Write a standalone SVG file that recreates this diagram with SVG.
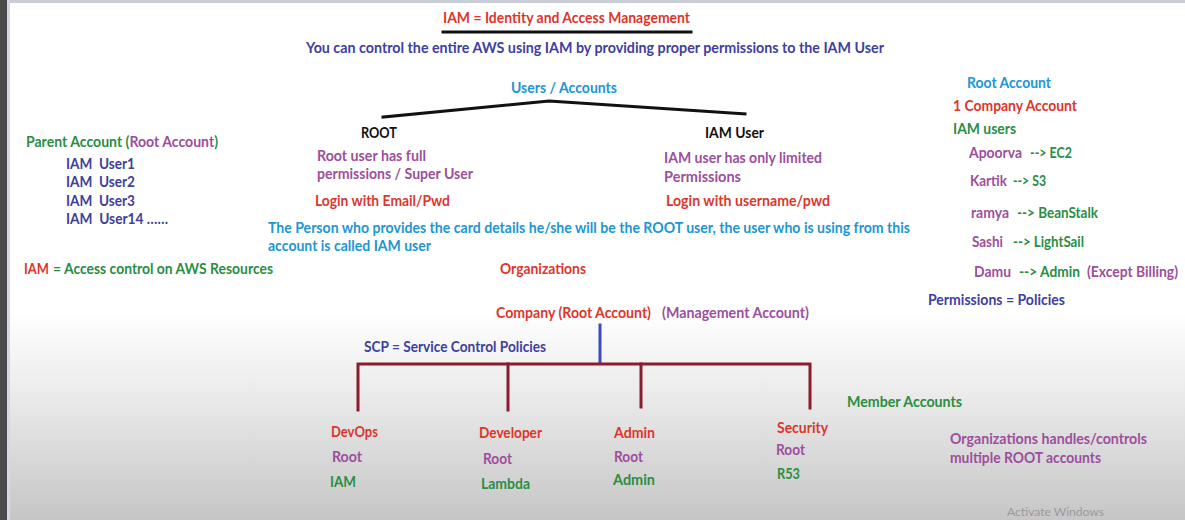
<svg xmlns="http://www.w3.org/2000/svg" width="1185" height="520" viewBox="0 0 1185 520">
<style>
text{font-family:"Lato","Open Sans","Liberation Sans",sans-serif;font-weight:bold;font-size:14.5px;}
.r{fill:#dc362c}.b{fill:#40409e}.lb{fill:#2196d3}.p{fill:#9c4f9c}.g{fill:#2a8e45}.k{fill:#111}
.wm{font-weight:normal;font-size:12px;fill:#9a9a9a}
</style>
<defs>
<linearGradient id="bg" x1="0" y1="0" x2="0" y2="1">
<stop offset="0" stop-color="#ffffff"/>
<stop offset="0.6" stop-color="#ffffff"/>
<stop offset="0.75" stop-color="#ececec"/>
<stop offset="1" stop-color="#c6c6c6"/>
</linearGradient>
</defs>
<rect width="1185" height="520" fill="url(#bg)"/>
<rect x="0" y="0" width="1185" height="3" fill="#c9cdd8"/>
<rect x="7" y="0" width="3" height="520" fill="#d4d6e4"/>
<rect x="0" y="0" width="7" height="520" fill="#4a4a4a"/>

<g id="connectors" fill="none" stroke-linecap="square">
<line x1="443" y1="32" x2="691" y2="32" stroke="#111" stroke-width="3"/>
<polyline points="383,117 549,101 745,114" stroke="#111" stroke-width="3"/>
<line x1="600" y1="325" x2="600" y2="363" stroke="#3a4cc0" stroke-width="3"/>
<polyline points="358,410 358,364 810,364 810,408" stroke="#8b1c2c" stroke-width="3"/>
<line x1="508" y1="364" x2="508" y2="410" stroke="#8b1c2c" stroke-width="3"/>
<line x1="641" y1="364" x2="641" y2="407" stroke="#8b1c2c" stroke-width="3"/>
</g>

<g id="title"><text class="r" x="443" y="23" textLength="247" lengthAdjust="spacingAndGlyphs">IAM = Identity and Access Management</text></g>
<g id="subtitle"><text class="b" x="306" y="53" textLength="578" lengthAdjust="spacingAndGlyphs">You can control the entire AWS using IAM by providing proper permissions to the IAM User</text></g>
<g id="users-accounts"><text class="lb" x="511" y="93" textLength="106" lengthAdjust="spacingAndGlyphs">Users / Accounts</text></g>

<g id="root">
<text class="k" x="361" y="138" textLength="36" lengthAdjust="spacingAndGlyphs">ROOT</text>
<text class="p" x="317" y="161" textLength="109" lengthAdjust="spacingAndGlyphs">Root user has full</text>
<text class="p" x="317" y="179" textLength="156" lengthAdjust="spacingAndGlyphs">permissions / Super User</text>
<text class="r" x="315" y="206" textLength="135" lengthAdjust="spacingAndGlyphs">Login with Email/Pwd</text>
</g>
<g id="iam-user">
<text class="k" x="705" y="138" textLength="59" lengthAdjust="spacingAndGlyphs">IAM User</text>
<text class="p" x="664" y="163" textLength="158" lengthAdjust="spacingAndGlyphs">IAM user has only limited</text>
<text class="p" x="664" y="182" textLength="77" lengthAdjust="spacingAndGlyphs">Permissions</text>
<text class="r" x="666" y="206" textLength="164" lengthAdjust="spacingAndGlyphs">Login with username/pwd</text>
</g>
<g id="note-person">
<text class="lb" x="268" y="233" textLength="642" lengthAdjust="spacingAndGlyphs">The Person who provides the card details he/she will be the ROOT user, the user who is using from this</text>
<text class="lb" x="268" y="251" textLength="163" lengthAdjust="spacingAndGlyphs">account is called IAM user</text>
</g>

<g id="parent-account">
<text x="26" y="147" textLength="192" lengthAdjust="spacingAndGlyphs"><tspan class="g">Parent Account (</tspan><tspan class="p">Root Account</tspan><tspan class="g">)</tspan></text>
<text class="b" x="66" y="169" xml:space="preserve" textLength="69" lengthAdjust="spacingAndGlyphs">IAM  User1</text>
<text class="b" x="66" y="187" xml:space="preserve" textLength="69" lengthAdjust="spacingAndGlyphs">IAM  User2</text>
<text class="b" x="66" y="206" xml:space="preserve" textLength="69" lengthAdjust="spacingAndGlyphs">IAM  User3</text>
<text class="b" x="66" y="224" xml:space="preserve" textLength="102" lengthAdjust="spacingAndGlyphs">IAM  User14 ……</text>
</g>
<g id="iam-access">
<text class="r" x="24" y="274" textLength="25" lengthAdjust="spacingAndGlyphs">IAM</text>
<text class="g" x="53" y="274" textLength="220" lengthAdjust="spacingAndGlyphs">= Access control on AWS Resources</text>
</g>

<g id="right-panel">
<text class="lb" x="967" y="88" textLength="84" lengthAdjust="spacingAndGlyphs">Root Account</text>
<text class="r" x="953" y="111" textLength="124" lengthAdjust="spacingAndGlyphs">1 Company Account</text>
<text class="g" x="953" y="134" textLength="63" lengthAdjust="spacingAndGlyphs">IAM users</text>
<text class="p" x="969" y="158" textLength="53" lengthAdjust="spacingAndGlyphs">Apoorva</text>
<text class="g" x="1030" y="158" textLength="42" lengthAdjust="spacingAndGlyphs">--&gt; EC2</text>
<text class="p" x="970" y="186" textLength="37" lengthAdjust="spacingAndGlyphs">Kartik</text>
<text class="g" x="1013" y="186" textLength="33" lengthAdjust="spacingAndGlyphs">--&gt; S3</text>
<text class="p" x="971" y="218" textLength="38" lengthAdjust="spacingAndGlyphs">ramya</text>
<text class="g" x="1017" y="218" textLength="81" lengthAdjust="spacingAndGlyphs">--&gt; BeanStalk</text>
<text class="p" x="972" y="247" textLength="31" lengthAdjust="spacingAndGlyphs">Sashi</text>
<text class="g" x="1013" y="247" textLength="71" lengthAdjust="spacingAndGlyphs">--&gt; LightSail</text>
<text class="p" x="974" y="277" textLength="37" lengthAdjust="spacingAndGlyphs">Damu</text>
<text class="g" x="1019" y="277" textLength="61" lengthAdjust="spacingAndGlyphs">--&gt; Admin</text>
<text class="p" x="1087" y="277" textLength="91" lengthAdjust="spacingAndGlyphs">(Except Billing)</text>
<text class="b" x="928" y="305" textLength="137" lengthAdjust="spacingAndGlyphs">Permissions = Policies</text>
</g>

<g id="organizations"><text class="r" x="500" y="274" textLength="86" lengthAdjust="spacingAndGlyphs">Organizations</text></g>
<g id="company">
<text class="r" x="496" y="318" textLength="155" lengthAdjust="spacingAndGlyphs">Company (Root Account)</text>
<text class="p" x="662" y="318" textLength="147" lengthAdjust="spacingAndGlyphs">(Management Account)</text>
</g>
<g id="scp"><text class="b" x="364" y="352" textLength="182" lengthAdjust="spacingAndGlyphs">SCP = Service Control Policies</text></g>

<g id="devops">
<text class="r" x="331" y="437" textLength="47" lengthAdjust="spacingAndGlyphs">DevOps</text>
<text class="p" x="332" y="462" textLength="30" lengthAdjust="spacingAndGlyphs">Root</text>
<text class="g" x="330" y="487" textLength="26" lengthAdjust="spacingAndGlyphs">IAM</text>
</g>
<g id="developer">
<text class="r" x="479" y="438" textLength="63" lengthAdjust="spacingAndGlyphs">Developer</text>
<text class="p" x="483" y="464" textLength="29" lengthAdjust="spacingAndGlyphs">Root</text>
<text class="g" x="481" y="489" textLength="49" lengthAdjust="spacingAndGlyphs">Lambda</text>
</g>
<g id="admin">
<text class="r" x="614" y="438" textLength="41" lengthAdjust="spacingAndGlyphs">Admin</text>
<text class="p" x="614" y="462" textLength="29" lengthAdjust="spacingAndGlyphs">Root</text>
<text class="g" x="613" y="485" textLength="42" lengthAdjust="spacingAndGlyphs">Admin</text>
</g>
<g id="security">
<text class="r" x="777" y="433" textLength="51" lengthAdjust="spacingAndGlyphs">Security</text>
<text class="p" x="776" y="455" textLength="29" lengthAdjust="spacingAndGlyphs">Root</text>
<text class="g" x="777" y="479" textLength="23" lengthAdjust="spacingAndGlyphs">R53</text>
</g>
<g id="member-accounts"><text class="g" x="847" y="407" textLength="115" lengthAdjust="spacingAndGlyphs">Member Accounts</text></g>
<g id="org-note">
<text class="p" x="950" y="444" textLength="197" lengthAdjust="spacingAndGlyphs">Organizations handles/controls</text>
<text class="p" x="950" y="463" textLength="151" lengthAdjust="spacingAndGlyphs">multiple ROOT accounts</text>
</g>
<g id="watermark"><text class="wm" x="1007" y="516" textLength="97" lengthAdjust="spacingAndGlyphs">Activate Windows</text></g>
</svg>
